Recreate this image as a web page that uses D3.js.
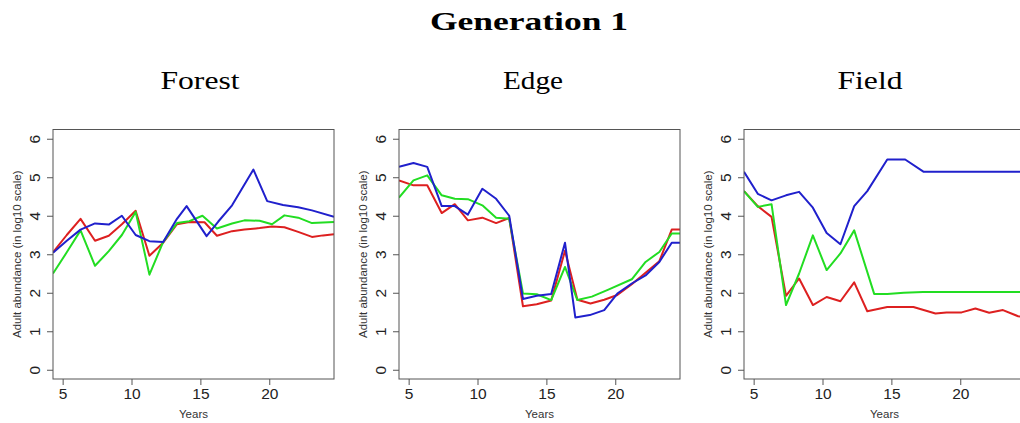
<html>
<head>
<script src="https://d3js.org/d3.v7.min.js"></script>
<style>
    body {
        margin: 0;
        background-color: #fff;
    }
</style>
</head>
<body>
    <svg width="1020" height="423"></svg>
    <script type="text/javascript">
    // values: [year, log10 adult abundance]
    var panelNames = ["Forest", "Edge", "Field"];
    var xTicks = [5, 10, 15, 20];
    var yTicks = [0, 1, 2, 3, 4, 5, 6];

    var forestRed = [[4.3,3.05],[5.3,3.5],[6.3,3.92],[7.35,3.35],[8.35,3.48],[9.3,3.78],[10.3,4.13],[11.3,2.96],[12.3,3.3],[13.3,3.78],[14.2,3.84],[15.3,3.83],[16.2,3.48],[17.3,3.6],[18.2,3.64],[19.3,3.68],[20.2,3.72],[21.1,3.7],[22.1,3.58],[23.1,3.45],[23.9,3.49],[24.7,3.52]];
    var forestGreen = [[4.3,2.5],[5.3,3.05],[6.3,3.62],[7.35,2.7],[8.35,3.08],[9.3,3.5],[10.3,4.1],[11.3,2.47],[12.3,3.32],[13.3,3.81],[14.2,3.86],[15.15,4.0],[16.2,3.67],[17.3,3.8],[18.2,3.88],[19.3,3.87],[20.2,3.78],[21.1,4.01],[22.1,3.95],[23.1,3.81],[24.7,3.84]];
    var forestBlue = [[4.3,3.04],[5.3,3.35],[6.3,3.64],[7.35,3.8],[8.35,3.77],[9.3,4.0],[10.3,3.5],[11.3,3.34],[12.3,3.32],[13.3,3.92],[14.0,4.25],[15.45,3.47],[16.3,3.85],[17.3,4.27],[18.85,5.2],[19.85,4.38],[21.0,4.28],[22.1,4.22],[23.1,4.14],[24.7,3.97]];

    var edgeRed = [[4.3,4.92],[5.35,4.79],[6.35,4.79],[7.4,4.07],[8.35,4.3],[9.3,3.88],[10.35,3.95],[11.35,3.81],[12.3,3.94],[13.3,1.65],[14.3,1.7],[15.35,1.8],[16.35,3.09],[17.25,1.82],[18.2,1.72],[19.2,1.82],[20.15,1.94],[21.2,2.22],[22.2,2.52],[23.2,2.82],[24.1,3.64],[24.7,3.64]];
    var edgeGreen = [[4.3,4.47],[5.35,4.92],[6.35,5.05],[7.4,4.53],[8.35,4.44],[9.3,4.43],[10.35,4.27],[11.35,3.95],[12.3,3.92],[13.3,1.98],[14.3,1.96],[15.35,1.81],[16.35,2.67],[17.25,1.81],[18.3,1.9],[19.5,2.08],[21.2,2.35],[22.2,2.8],[23.2,3.06],[24.1,3.54],[24.7,3.54]];
    var edgeBlue = [[4.3,5.27],[5.35,5.37],[6.35,5.27],[7.4,4.25],[8.35,4.25],[9.3,4.03],[10.35,4.7],[11.35,4.44],[12.3,4.0],[13.3,1.84],[14.3,1.92],[15.35,1.97],[16.35,3.3],[17.1,1.36],[18.15,1.42],[19.2,1.55],[20.15,1.98],[21.2,2.24],[22.2,2.45],[23.2,2.8],[24.1,3.3],[24.7,3.3]];

    var fieldRed = [[4.3,4.64],[5.3,4.25],[6.3,3.97],[7.35,1.92],[8.3,2.37],[9.3,1.68],[10.3,1.89],[11.3,1.78],[12.3,2.27],[13.25,1.52],[14.7,1.63],[16.6,1.63],[18.2,1.46],[19.0,1.49],[20.1,1.49],[21.1,1.59],[22.1,1.48],[23.1,1.55],[24.2,1.39],[24.9,1.36]];
    var fieldGreen = [[4.3,4.64],[5.3,4.23],[6.3,4.3],[7.35,1.68],[8.3,2.5],[9.3,3.49],[10.3,2.59],[11.3,3.02],[12.3,3.62],[13.75,1.97],[14.7,1.97],[15.9,2.0],[17.3,2.02],[24.9,2.02]];
    var fieldBlue = [[4.3,5.14],[5.3,4.57],[6.3,4.4],[7.35,4.53],[8.3,4.62],[9.3,4.21],[10.3,3.55],[11.3,3.26],[12.3,4.25],[13.25,4.64],[14.7,5.46],[16.0,5.46],[17.35,5.14],[24.9,5.14]];

    var panelSeries = [
        [forestRed, forestGreen, forestBlue],
        [edgeRed, edgeGreen, edgeBlue],
        [fieldRed, fieldGreen, fieldBlue]
    ];
    var colors = ["#dd2020", "#22dd22", "#2020cc"];
    var titleX = [200, 533, 870];
    var titleW = [79, 60, 65];

    var svg = d3.select("svg"),
        panelLeft = [53, 399, 744],
        plotTop = 129.5,
        pw = 281,
        ph = 249.5;

    svg.append("text")
        .attr("x", 529)
        .attr("y", 30)
        .attr("text-anchor", "middle")
        .attr("textLength", 198)
        .attr("lengthAdjust", "spacingAndGlyphs")
        .style("font", "bold 26px 'Liberation Serif'")
        .text("Generation 1");

    var x = d3.scaleLinear().domain([4.3, 24.7]).range([0, pw]);
    var y = d3.scaleLinear().domain([-0.24, 6.24]).range([ph, 0]);

    var line = d3.line()
        .x(function(d) { return x(d[0]); })
        .y(function(d) { return y(d[1]); });

    panelNames.forEach(function(name, i) {
        svg.append("text")
            .attr("x", titleX[i])
            .attr("y", 89)
            .attr("text-anchor", "middle")
            .attr("textLength", titleW[i])
            .attr("lengthAdjust", "spacingAndGlyphs")
            .style("font", "25px 'Liberation Serif'")
            .text(name);

        var g = svg.append("g").attr("transform", "translate(" + panelLeft[i] + "," + plotTop + ")");

        g.append("clipPath").attr("id", "clip" + i)
            .append("rect").attr("width", pw).attr("height", ph);

        panelSeries[i].forEach(function(s, j) {
            g.append("path")
                .datum(s)
                .attr("clip-path", "url(#clip" + i + ")")
                .attr("fill", "none")
                .attr("stroke", colors[j])
                .attr("stroke-width", 2)
                .attr("stroke-linejoin", "round")
                .attr("d", line);
        });

        g.append("rect")
            .attr("width", pw)
            .attr("height", ph)
            .attr("fill", "none")
            .attr("stroke", "#555");

        var xAxis = g.append("g")
            .attr("transform", "translate(0," + ph + ")")
            .call(d3.axisBottom(x).tickValues(xTicks).tickFormat(d3.format("d")).tickSize(6).tickPadding(3));
        xAxis.select(".domain").remove();
        xAxis.selectAll("line").attr("stroke", "#555");
        xAxis.selectAll("text")
            .attr("fill", "#222")
            .style("font", "15.5px 'Liberation Sans'");

        var yAxis = g.append("g")
            .call(d3.axisLeft(y).tickValues(yTicks).tickFormat(d3.format("d")).tickSize(6));
        yAxis.select(".domain").remove();
        yAxis.selectAll("line").attr("stroke", "#555");
        yAxis.selectAll("text")
            .attr("x", null).attr("dy", null)
            .attr("transform", "translate(-13,0) rotate(-90)")
            .attr("text-anchor", "middle")
            .attr("fill", "#222")
            .style("font", "15.5px 'Liberation Sans'");

        g.append("text")
            .attr("transform", "translate(-32," + (ph / 2) + ") rotate(-90)")
            .attr("text-anchor", "middle")
            .attr("fill", "#333")
            .style("font", "11.5px 'Liberation Sans'")
            .text("Adult abundance (in log10 scale)");

        g.append("text")
            .attr("x", pw / 2)
            .attr("y", ph + 39)
            .attr("text-anchor", "middle")
            .attr("fill", "#333")
            .style("font", "11.5px 'Liberation Sans'")
            .text("Years");
    });
    </script>
</body>
</html>
